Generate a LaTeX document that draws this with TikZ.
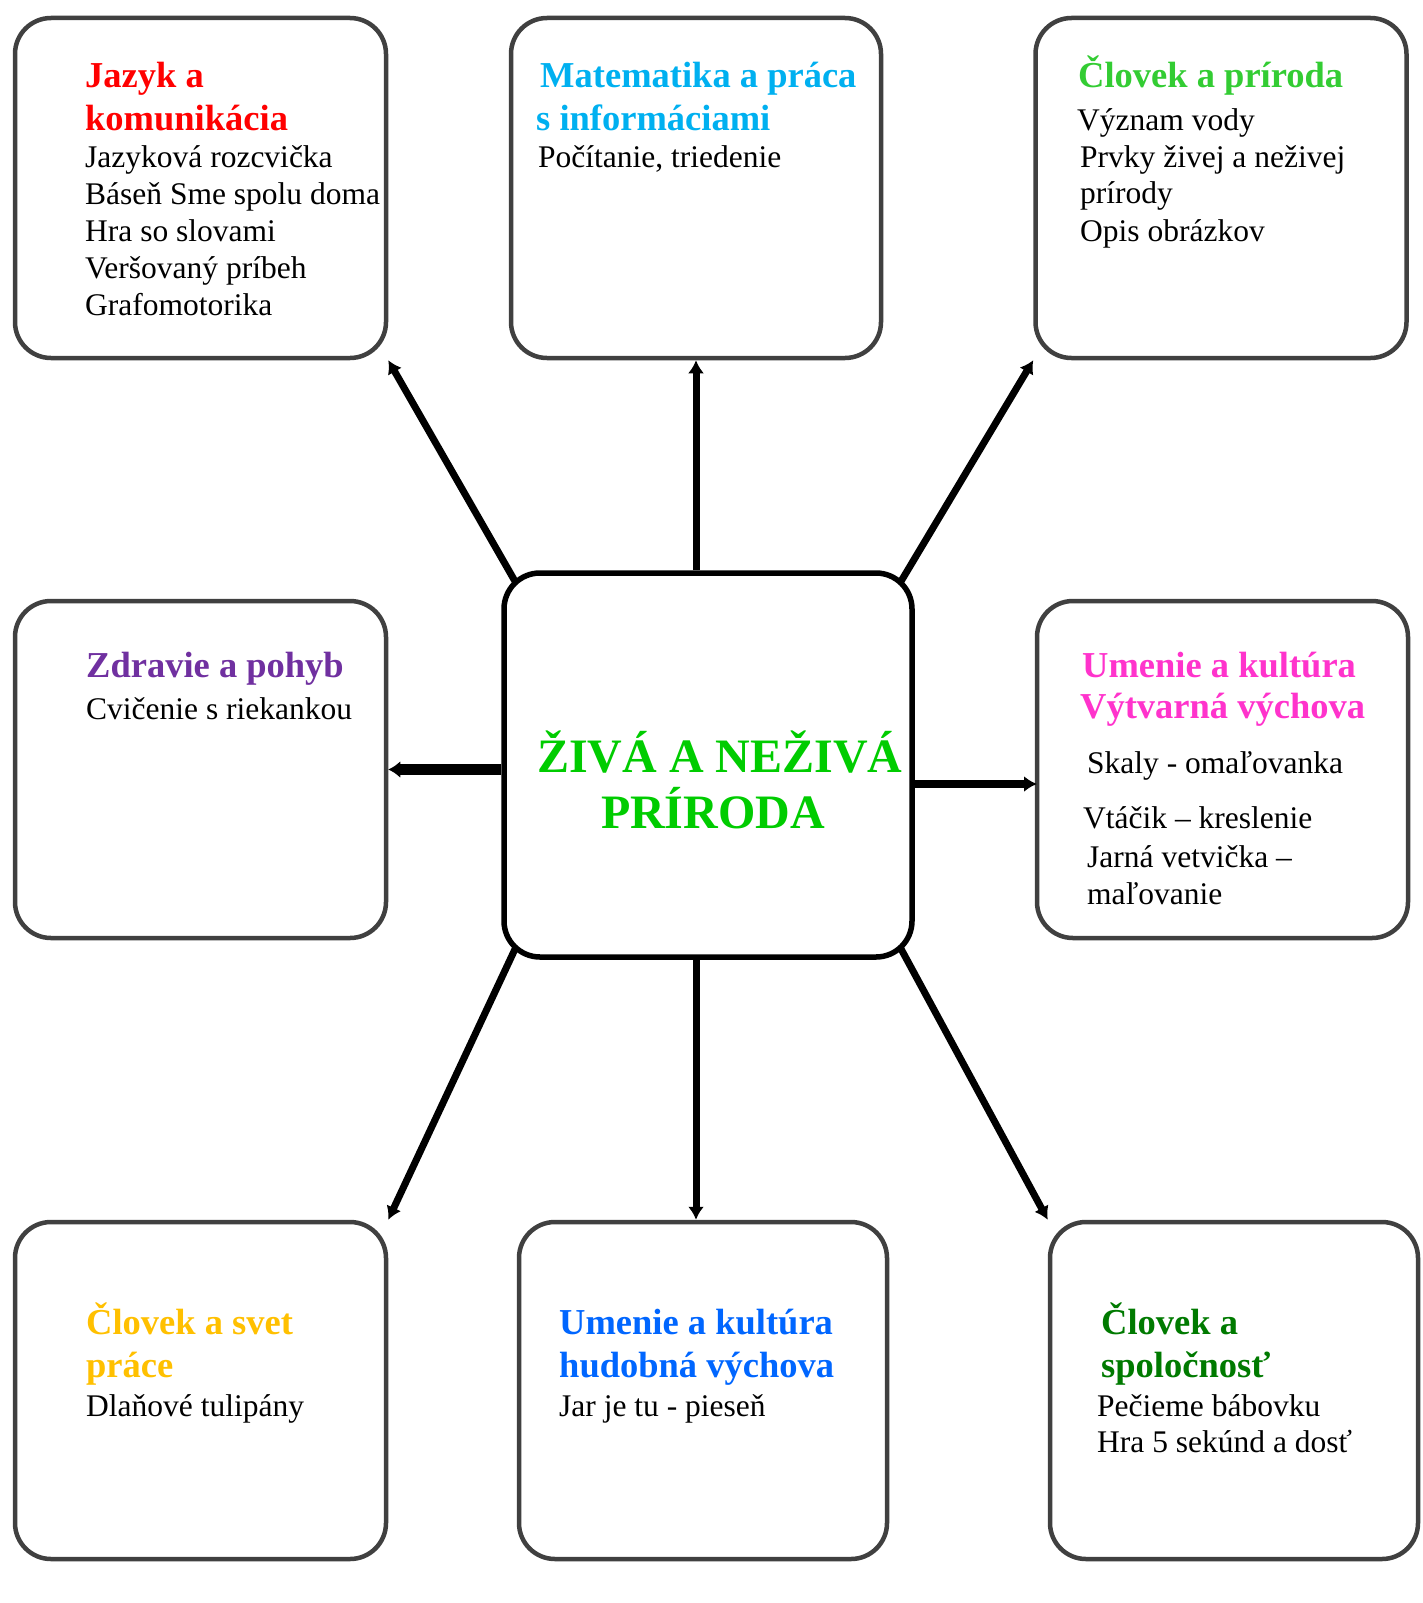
\documentclass[tikz,border=0pt]{standalone}
\usepackage{fontspec}
\setmainfont{Liberation Serif}
\usetikzlibrary{arrows.meta}
\definecolor{cRed}{HTML}{FF0000}
\definecolor{cCyan}{HTML}{00B0F0}
\definecolor{cLGreen}{HTML}{33CC33}
\definecolor{cPurple}{HTML}{7030A0}
\definecolor{cMagenta}{HTML}{FF33CC}
\definecolor{cGold}{HTML}{FFC000}
\definecolor{cBlue}{HTML}{0066FF}
\definecolor{cDGreen}{HTML}{007A00}
\definecolor{cCenter}{HTML}{00CC00}
\definecolor{cBorder}{HTML}{404040}
\begin{document}
\begin{tikzpicture}[x=1pt,y=-1pt,
  box/.style={draw=cBorder,line width=4.5pt,rounded corners=36pt,inner sep=0pt},
  cbox/.style={draw=black,line width=5.5pt,rounded corners=36pt,inner sep=0pt},
  hd/.style={anchor=base west,inner sep=0pt,font=\fontsize{36.5}{40}\selectfont\bfseries},
  bd/.style={anchor=base west,inner sep=0pt,font=\fontsize{31.5}{36}\selectfont},
  ct/.style={anchor=base,inner sep=0pt,text=cCenter,font=\fontsize{48}{56}\selectfont\bfseries},
  conn/.style={line width=7pt,-{Latex[length=13pt,width=16pt]}}
]
\useasboundingbox (0,0) rectangle (1422,1603);
\fill[white] (0,0) rectangle (1422,1603);
% boxes
\node[box,minimum width=371pt,minimum height=340pt] (tl) at (200.5,188) {};
\node[box,minimum width=370pt,minimum height=340pt] (tm) at (696,188) {};
\node[box,minimum width=371pt,minimum height=340pt] (tr) at (1221,188) {};
\node[box,minimum width=371pt,minimum height=337pt] (ml) at (200.5,769.5) {};
\node[box,minimum width=371pt,minimum height=337pt] (mr) at (1222.5,769.5) {};
\node[cbox,minimum width=408pt,minimum height=384pt] (c) at (708,765) {};
\node[box,minimum width=371pt,minimum height=337pt] (bl) at (200.5,1390.5) {};
\node[box,minimum width=368pt,minimum height=337pt] (bm) at (703,1390.5) {};
\node[box,minimum width=368pt,minimum height=337pt] (br) at (1234,1390.5) {};
% connector start points on the rounded corners of the centre box
\coordinate (cnw) at (516,583);
\coordinate (cne) at (900,583);
\coordinate (csw) at (516,947);
\coordinate (cse) at (900,947);
\coordinate (cr) at (912,784);
\coordinate (mrl) at (1037,784);
% connectors
\draw[conn] (cnw) -- (tl.south east);
\draw[conn] (tm.south |- c.north) -- (tm.south);
\draw[conn] (cne) -- (tr.south west);
\draw[line width=11pt,-{Latex[length=12pt,width=17pt]}] (c.west |- ml.east) -- (ml.east);
\draw[line width=7.5pt,-{Latex[length=13pt,width=16pt]}] (cr) -- (mrl);
\draw[conn] (csw) -- (bl.north east);
\draw[conn] (tm.south |- c.south) -- (tm.south |- bm.north);
\draw[conn] (cse) -- (br.north west);
% center text
\node[ct] (c1) at (720,772) {ŽIVÁ A NEŽIVÁ};
\node[ct] (c2) at (713,828) {PRÍRODA};
% top left
\node[hd,text=cRed] (tl1) at (85,88) {Jazyk a};
\node[hd,text=cRed] (tl2) at (85,130) {komunikácia};
\node[bd] (tl3) at (85,167) {Jazyková rozcvička};
\node[bd] (tl4) at (85,204) {Báseň Sme spolu doma};
\node[bd] (tl5) at (85,241) {Hra so slovami};
\node[bd] (tl6) at (85,278) {Veršovaný príbeh};
\node[bd] (tl7) at (85,315) {Grafomotorika};
% top middle
\node[hd,text=cCyan] (tm1) at (540,88) {Matematika a práca};
\node[hd,text=cCyan] (tm2) at (536,130) {s informáciami};
\node[bd] (tm3) at (538,167) {Počítanie, triedenie};
% top right
\node[hd,text=cLGreen] (tr1) at (1078,88) {Človek a príroda};
\node[bd] (tr2) at (1077,130) {Význam vody};
\node[bd] (tr3) at (1080,167) {Prvky živej a neživej};
\node[bd] (tr4) at (1080,203) {prírody};
\node[bd] (tr5) at (1080,241) {Opis obrázkov};
% middle left
\node[hd,text=cPurple] (ml1) at (86,677) {Zdravie a pohyb};
\node[bd] (ml2) at (86,719) {Cvičenie s riekankou};
% middle right
\node[hd,text=cMagenta] (mr1) at (1082,677) {Umenie a kultúra};
\node[hd,text=cMagenta] (mr2) at (1080,718) {Výtvarná výchova};
\node[bd] (mr3) at (1087,773) {Skaly - omaľovanka};
\node[bd] (mr4) at (1083,828) {Vtáčik -- kreslenie};
\node[bd] (mr5) at (1087,867) {Jarná vetvička --};
\node[bd] (mr6) at (1087,904) {maľovanie};
% bottom left
\node[hd,text=cGold] (bl1) at (86,1334) {Človek a svet};
\node[hd,text=cGold] (bl2) at (86,1377) {práce};
\node[bd] (bl3) at (86,1416) {Dlaňové tulipány};
% bottom middle
\node[hd,text=cBlue] (bm1) at (559,1334) {Umenie a kultúra};
\node[hd,text=cBlue] (bm2) at (559,1377) {hudobná výchova};
\node[bd] (bm3) at (559,1416) {Jar je tu - pieseň};
% bottom right
\node[hd,text=cDGreen] (br1) at (1101,1334) {Človek a};
\node[hd,text=cDGreen] (br2) at (1101,1377) {spoločnosť};
\node[bd] (br3) at (1097,1416) {Pečieme bábovku};
\node[bd] (br4) at (1097,1452) {Hra 5 sekúnd a dosť};
\end{tikzpicture}
\end{document}
